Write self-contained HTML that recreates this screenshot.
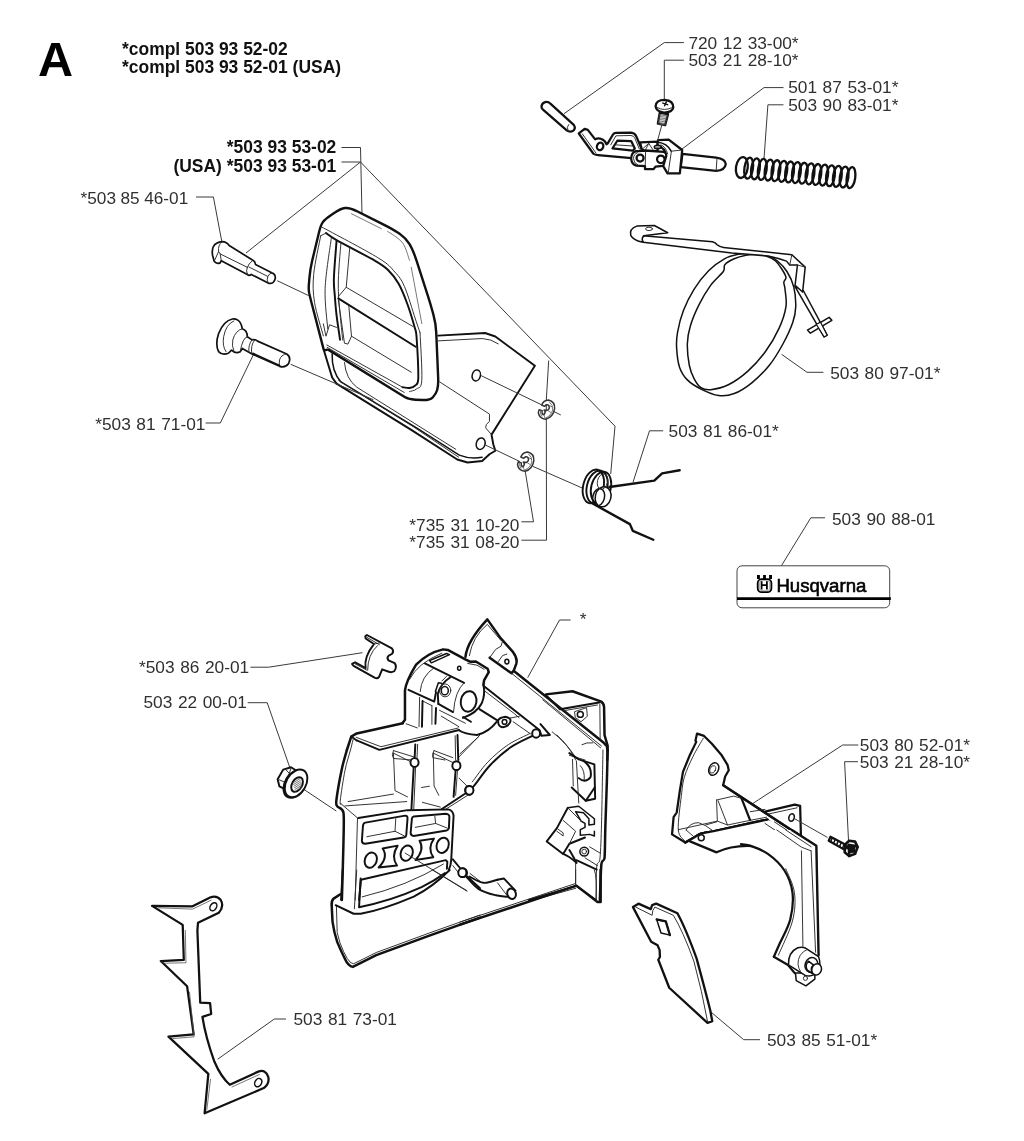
<!DOCTYPE html>
<html><head><meta charset="utf-8"><title>A</title>
<style>
html,body{margin:0;padding:0;background:#fff;}
body{width:1024px;height:1141px;overflow:hidden;position:relative;}
svg{position:absolute;left:0;top:0;display:block;will-change:transform;}
text{font-family:"Liberation Sans",Arial,Helvetica,sans-serif;fill:#1a1a1a;}
.t{font-size:17.3px;word-spacing:0.8px;fill:#303030;}
.b{font-size:17.45px;font-weight:bold;fill:#111;}
.ld{fill:none;stroke:#3a3a3a;stroke-width:1;}
.k{fill:none;stroke:#111;stroke-width:2.25;stroke-linejoin:round;stroke-linecap:round;}
.m{fill:none;stroke:#111;stroke-width:1.5;stroke-linejoin:round;stroke-linecap:round;}
.n{fill:none;stroke:#2a2a2a;stroke-width:0.95;stroke-linejoin:round;stroke-linecap:round;}
.h{fill:none;stroke:#555;stroke-width:0.8;stroke-linejoin:round;stroke-linecap:round;}
.w{fill:#fff;}
#housing .k{stroke-width:1.95}
#handle .k{stroke-width:1.95}
path,line,ellipse,circle,polyline,polygon,rect{vector-effect:non-scaling-stroke}
</style></head><body>
<svg width="1024" height="1141" viewBox="0 0 1024 1141">
<g id="labels">
<text x="38" y="76" style="font-size:48.6px;font-weight:bold;fill:#000">A</text>
<text class="b" x="122" y="55.3">*compl 503 93 52-02</text>
<text class="b" x="122" y="72.9">*compl 503 93 52-01 (USA)</text>
<text class="b" x="336.3" y="153.2" text-anchor="end">*503 93 53-02</text>
<text class="b" x="336.3" y="171.5" text-anchor="end">(USA) *503 93 53-01</text>
<text class="t" x="80.6" y="203.7" style="word-spacing:-0.2px;font-size:17.2px">*503 85 46-01</text>
<text class="t" x="688.4" y="49.2">720 12 33-00*</text>
<text class="t" x="688.4" y="66.4">503 21 28-10*</text>
<text class="t" x="788.2" y="93.4">501 87 53-01*</text>
<text class="t" x="788.2" y="110.6">503 90 83-01*</text>
<text class="t" x="830.2" y="378.5">503 80 97-01*</text>
<text class="t" x="668.6" y="437.4">503 81 86-01*</text>
<text class="t" x="409.3" y="531">*735 31 10-20</text>
<text class="t" x="409.3" y="548">*735 31 08-20</text>
<text class="t" x="95.2" y="430">*503 81 71-01</text>
<text class="t" x="832" y="524.8">503 90 88-01</text>
<text class="t" x="139" y="673">*503 86 20-01</text>
<text class="t" x="143.5" y="708.2">503 22 00-01</text>
<text class="t" x="579.8" y="625">*</text>
<text class="t" x="859.8" y="750.8">503 80 52-01*</text>
<text class="t" x="859.8" y="768.4">503 21 28-10*</text>
<text class="t" x="293.5" y="1025.2">503 81 73-01</text>
<text class="t" x="767" y="1046.3">503 85 51-01*</text>
</g>

<g id="leaders" class="ld">
<path d="M341.5 147.5H360.5L362 215"/>
<path d="M341.5 162H360.5L246 253"/>
<path d="M548.7 360.5L546.3 400L546.5 540.2H521.4"/>
<path d="M360.5 162L615 426.2L610.7 474"/>
<path d="M196 197H213.4L221.7 241"/>
<path d="M683.9 42.6H664.3L564 113.7"/>
<path d="M683.9 60.2H664.3V100"/>
<path d="M783.5 87.6H764L682 149"/>
<path d="M783.5 104.8H767.9L764 158.7"/>
<path d="M823.4 372.3H807L781.6 354.3"/>
<path d="M663.2 430.8H649.5L633 482.3"/>
<path d="M521.4 521.8H533.5L525.3 471.8"/>
<path d="M205.6 423H220.3L253.4 354.7"/>
<path d="M825 517.8H810.8L780.7 566.9"/>
<path d="M250.4 667.2H268.7L362.5 652.7"/>
<path d="M247.7 702.7H267.2L290.2 768.7"/>
<path d="M304 789.5L336.3 811"/>
<path d="M570.6 620H559.5L527.7 677.6"/>
<path d="M858.3 745H842.7L752.8 803.5"/>
<path d="M858 761.7H844.6L848.5 840.6"/>
<path d="M286 1019H274.3L217.7 1059.2"/>
<path d="M760 1039.7H743.7L711.3 1012.3"/>
</g>

<g id="topright">
<g transform="translate(530,80) scale(0.19531)">
<path class="k w" d="M60 144 Q55 120 78 113 Q94 110 103 120 L224 230 Q236 246 222 259 Q205 270 188 258 L68 153 Z"/>
<path class="n" d="M198 228 Q185 240 195 260"/>
</g>
<g transform="translate(570,120) scale(0.11719)">
<path class="k w" d="M75 115 L125 75 L152 84 L215 165 Q240 152 268 162 Q300 175 312 207 L322 200 L368 122 Q376 110 392 110 L520 108 Q552 110 566 140 L612 250 L640 262 L560 268 L525 325 L240 300 Q212 298 200 288 Z"/>
<path class="n" d="M105 118 L222 282"/>
<ellipse class="k w" cx="257" cy="225" rx="27" ry="33" transform="rotate(20 257 225)"/>
<path class="k w" d="M362 243 L405 175 L522 180 L553 243 L535 262 Z"/>
<path class="n" d="M348 212 L392 135 L520 132 Q542 134 552 152 L592 248"/>
<path class="n" d="M388 212 L538 222"/>
<path class="k w" d="M598 190 L748 185 L748 265 L640 262 L612 250 Z"/>
<path class="n" d="M612 252 L672 200 L715 264 M672 200 L640 262"/>
<path class="k w" d="M560 268 Q524 278 522 330 Q526 380 566 390 L640 394 L640 420 L712 420 L730 398 L792 392 Q836 380 838 330 Q836 284 800 272 L640 262 Z"/>
<path class="n" d="M575 280 Q542 292 542 330 Q545 372 578 382"/>
<path class="n" d="M645 265 L642 394"/>
<circle class="k" cx="598" cy="325" r="30"/>
<circle class="k" cx="775" cy="335" r="32"/>
</g>
<g transform="translate(640,90) scale(0.11719)">
<path class="k w" d="M362 545 L650 578 Q728 590 732 632 Q726 684 650 690 L348 658 Z"/>
<path class="n" d="M657 582 L650 688"/>
<path class="k w" d="M150 445 L155 428 L245 423 L360 512 L340 712 L235 712 L198 650 L225 560 Q215 500 150 470 Z"/>
<path class="n" d="M360 512 L268 522 L240 712"/>
<path class="m" d="M150 445 Q232 452 266 522"/>
<path class="n" d="M178 468 Q218 480 236 545"/>
<ellipse class="m w" cx="150" cy="487" rx="28" ry="15"/>
<path class="n" d="M135 487 L165 487"/>
<path class="ld" d="M186 300 L150 430"/>
<path class="k w" d="M168 195 L152 288 L215 300 L240 205 Z"/>
<path class="h" d="M166 212 L236 220"/>
<path class="h" d="M163.8 225 L232.6 233"/>
<path class="h" d="M161.6 238 L229.2 246"/>
<path class="h" d="M159.4 251 L225.8 259"/>
<path class="h" d="M157.2 264 L222.4 272"/>
<path class="h" d="M155 277 L219 285"/>
<path class="h" d="M152.8 290 L215.6 298"/>
<path class="k w" d="M133 140 Q135 84 210 84 Q286 90 284 150 Q276 192 205 192 Q138 186 133 140 Z"/>
<path class="n" d="M148 150 Q205 182 270 152"/>
<path class="m" d="M195 112 L235 125 M225 100 L210 135"/>
</g>
<g transform="translate(725,140) scale(0.14648)">
<ellipse class="k" style="stroke-width:2.3" cx="115.0" cy="188.0" rx="40" ry="72" transform="rotate(8 115.0 188.0)"/>
<ellipse class="k" style="stroke-width:2.3" cx="161.6" cy="192.3" rx="29" ry="72" transform="rotate(8 161.6 192.3)"/>
<ellipse class="k" style="stroke-width:2.3" cx="208.1" cy="196.6" rx="29" ry="72" transform="rotate(8 208.1 196.6)"/>
<ellipse class="k" style="stroke-width:2.3" cx="254.7" cy="200.9" rx="29" ry="72" transform="rotate(8 254.7 200.9)"/>
<ellipse class="k" style="stroke-width:2.3" cx="301.2" cy="205.2" rx="29" ry="72" transform="rotate(8 301.2 205.2)"/>
<ellipse class="k" style="stroke-width:2.3" cx="347.8" cy="209.6" rx="29" ry="72" transform="rotate(8 347.8 209.6)"/>
<ellipse class="k" style="stroke-width:2.3" cx="394.4" cy="213.9" rx="29" ry="72" transform="rotate(8 394.4 213.9)"/>
<ellipse class="k" style="stroke-width:2.3" cx="440.9" cy="218.2" rx="29" ry="72" transform="rotate(8 440.9 218.2)"/>
<ellipse class="k" style="stroke-width:2.3" cx="487.5" cy="222.5" rx="29" ry="72" transform="rotate(8 487.5 222.5)"/>
<ellipse class="k" style="stroke-width:2.3" cx="534.1" cy="226.8" rx="29" ry="72" transform="rotate(8 534.1 226.8)"/>
<ellipse class="k" style="stroke-width:2.3" cx="580.6" cy="231.1" rx="29" ry="72" transform="rotate(8 580.6 231.1)"/>
<ellipse class="k" style="stroke-width:2.3" cx="627.2" cy="235.4" rx="29" ry="72" transform="rotate(8 627.2 235.4)"/>
<ellipse class="k" style="stroke-width:2.3" cx="673.8" cy="239.8" rx="29" ry="72" transform="rotate(8 673.8 239.8)"/>
<ellipse class="k" style="stroke-width:2.3" cx="720.3" cy="244.1" rx="29" ry="72" transform="rotate(8 720.3 244.1)"/>
<ellipse class="k" style="stroke-width:2.3" cx="766.9" cy="248.4" rx="29" ry="72" transform="rotate(8 766.9 248.4)"/>
<ellipse class="k" style="stroke-width:2.3" cx="813.4" cy="252.7" rx="29" ry="72" transform="rotate(8 813.4 252.7)"/>
<ellipse class="k" style="stroke-width:2.3" cx="860.0" cy="257.0" rx="29" ry="72" transform="rotate(8 860.0 257.0)"/>
</g>
</g>

<g id="band">
<g transform="translate(660,250) scale(0.19531)">
<path class="m" d="M480.0 15.0 C455.8 14.5 425.0 17.0 400.0 22.0 C375.0 27.0 355.0 31.2 330.0 45.0 C305.0 58.8 275.8 79.2 250.0 105.0 C224.2 130.8 196.7 165.8 175.0 200.0 C153.3 234.2 134.2 273.3 120.0 310.0 C105.8 346.7 95.8 388.3 90.0 420.0 C84.2 451.7 83.3 470.0 85.0 500.0 C86.7 530.0 90.8 572.5 100.0 600.0 C109.2 627.5 121.7 646.3 140.0 665.0 C158.3 683.7 183.3 698.7 210.0 712.0 C236.7 725.3 271.7 741.2 300.0 745.0 C328.3 748.8 351.7 745.8 380.0 735.0 C408.3 724.2 440.0 704.2 470.0 680.0 C500.0 655.8 533.3 623.3 560.0 590.0 C586.7 556.7 610.0 516.7 630.0 480.0 C650.0 443.3 669.2 401.7 680.0 370.0 C690.8 338.3 694.2 320.0 695.0 290.0 C695.8 260.0 692.5 220.0 685.0 190.0 C677.5 160.0 664.2 132.5 650.0 110.0 C635.8 87.5 617.5 69.2 600.0 55.0 C582.5 40.8 565.0 31.7 545.0 25.0 C525.0 18.3 504.2 15.5 480.0 15.0Z"/>
<path class="m" d="M440.0 27.0 C421.7 30.8 398.0 37.0 380.0 45.0 C362.0 53.0 341.3 64.2 332.0 75.0 C322.7 85.8 336.0 92.5 324.0 110.0 C312.0 127.5 280.7 151.7 260.0 180.0 C239.3 208.3 217.5 245.0 200.0 280.0 C182.5 315.0 165.0 356.7 155.0 390.0 C145.0 423.3 140.8 446.7 140.0 480.0 C139.2 513.3 144.2 560.0 150.0 590.0 C155.8 620.0 165.0 640.8 175.0 660.0 C185.0 679.2 195.8 695.8 210.0 705.0 C224.2 714.2 236.7 717.5 260.0 715.0 C283.3 712.5 318.3 705.8 350.0 690.0 C381.7 674.2 418.3 648.3 450.0 620.0 C481.7 591.7 513.3 556.7 540.0 520.0 C566.7 483.3 592.5 438.3 610.0 400.0 C627.5 361.7 640.0 323.3 645.0 290.0 C650.0 256.7 641.8 220.8 640.0 200.0 C638.2 179.2 633.2 175.0 634.0 165.0 C634.8 155.0 646.5 150.8 645.0 140.0 C643.5 129.2 634.2 114.2 625.0 100.0 C615.8 85.8 604.2 66.7 590.0 55.0 C575.8 43.3 556.7 35.5 540.0 30.0 C523.3 24.5 506.7 22.5 490.0 22.0 C473.3 21.5 458.3 23.2 440.0 27.0Z"/>
<path class="m w" d="M690 185 L840 445 L856 436 L735 210 Z"/>
<path class="m w" d="M755 410 L866 345 L880 360 L770 426 Z"/>
<path class="m w" d="M800 380 L840 445 L856 436 L822 370 Z" style="stroke-width:1.2"/>
</g>
<g transform="translate(620,210) scale(0.21484)">
<path class="m w" d="M108 120 L430 148 Q445 152 452 162 Q462 172 482 174 L800 208 L862 266 L850 382 L815 350 L826 256 L790 256 L775 238 Q740 225 690 214 L520 200 L108 150 Q98 135 108 120Z"/>
<path class="m w" d="M222 106 L160 72 L78 75 Q42 88 50 118 Q62 142 108 150 Q98 135 110 120 Z"/>
<ellipse class="n" cx="135" cy="88" rx="16" ry="8"/>
<path class="n" d="M790 256 L800 208 M826 256 L862 266"/>
</g>
</g>

<g id="handle">
<g transform="translate(280,190) scale(0.29297)">
<path class="w" d="M300 600 L193 661 L448 819 L605 920 L640 930 L690 925 L715 902 L735 890 L728 868 L722 835 L870 600 L735 500 L700 488 L540 497 L520 520 Z"/>
<path class="k" d="M193 661 L448 819 L605 920 L640 930 L690 925 L715 902 L735 890 L728 868 L722 835 L870 600 L735 500 L700 488 L540 497"/>
<path class="n" d="M540 515 L690 507 Q720 508 745 525"/>
<path class="n" d="M545 655 L715 765 L715 790 Q700 800 702 812 L722 835"/>
<path class="m" d="M178 559 Q176 620 208 655 L466 812 L612 905 Q650 920 690 912"/>
<path class="n" d="M220 589 Q225 645 262 673 L600 885"/>
<path class="n" d="M200 650 L455 808 L610 912"/>
<ellipse class="m w" cx="670" cy="633" rx="14" ry="19" transform="rotate(15 670 633)"/>
<ellipse class="m w" cx="685" cy="866" rx="15" ry="20" transform="rotate(15 685 866)"/>
<path class="k w" style="stroke-width:2.4" d="M99.7 352.3 Q97.0 340.0 98.7 320.1 L100.4 299.9 Q103.0 270.0 110.0 240.8 L133.2 144.3 Q139.0 120.0 145.8 110.5 L147.2 108.5 Q154.0 99.0 174.8 85.1 L183.5 79.4 Q208.0 63.0 221.6 61.6 L224.4 61.4 Q238.0 60.0 264.8 73.4 L352.2 117.1 Q388.0 135.0 407.1 148.6 L410.9 151.4 Q430.0 165.0 440.9 182.7 L443.1 186.3 Q454.0 204.0 466.3 242.1 L504.8 361.4 Q514.0 390.0 521.8 419.0 L524.2 428.0 Q532.0 457.0 533.3 487.0 L539.7 637.0 Q541.0 667.0 536.9 680.6 L536.1 683.4 Q532.0 697.0 522.5 706.5 L520.5 708.5 Q511.0 718.0 486.0 716.8 L463.0 715.7 Q448.0 715.0 439.8 712.3 L438.2 711.7 Q430.0 709.0 421.5 703.7 L167.3 546.6 Q163.0 544.0 158.2 545.5 L154.8 546.5 Q150.0 548.0 148.7 543.2 L110.5 396.0 Q103.0 367.0 100.3 354.7 Z"/>
<path class="k" d="M150 548 L178 640 L193 661"/>
<path class="k" d="M157.0 147.0 C161.8 150.2 171.0 158.6 193.0 171.0 C215.0 183.4 298.7 226.5 322.0 240.0 C345.3 253.5 356.9 261.3 368.0 272.0 C379.1 282.7 396.1 304.3 405.0 320.0 C413.9 335.7 427.7 370.0 435.0 390.0 C442.3 410.0 455.9 455.3 460.0 470.0 C464.1 484.7 464.4 476.9 466.0 500.0 C467.6 523.1 472.5 620.7 472.0 643.0 C471.5 665.3 466.0 662.6 462.0 667.0 C458.0 671.4 447.9 675.2 442.0 676.0 C436.1 676.8 421.2 673.4 418.0 673.0"/>
<path class="n" d="M418 673 L160 529"/>
<path class="n" d="M424 691 L161 537"/>
<path class="k" d="M193.0 174.0 C191.5 195.0 185.0 269.0 184.0 300.0 C183.0 331.0 185.5 338.8 187.0 360.0 C188.5 381.2 190.0 401.8 193.0 427.0 C196.0 452.2 203.0 497.0 205.0 511.0"/>
<path class="k" d="M199 370 L463 535"/>
<path class="n" d="M199 364 L226 332 L454 466"/>
<path class="n" d="M238 198 L226 332"/>
<path class="n" d="M139.0 156.0 C135.0 178.0 118.5 250.0 115.0 288.0 C111.5 326.0 112.5 349.0 118.0 384.0 C123.5 419.0 143.0 479.0 148.0 498.0"/>
<path class="n" d="M175.0 165.0 C171.5 193.5 156.0 284.5 154.0 336.0 C152.0 387.5 161.5 451.0 163.0 474.0"/>
<path class="n" d="M148 457 L157 499 L169 460 L193 469"/>
<path class="n" d="M157 147 L139 156"/>
<path class="n" d="M208.0 180.0 C206.5 206.0 198.0 280.7 199.0 336.0 C200.0 391.3 211.5 482.7 214.0 512.0"/>
<path class="n" d="M199 373 L220 523 L232 526 L244 499 L235 397"/>
<path class="n" d="M244 499 L448 622"/>
<path class="n" d="M142.0 126.0 C174.0 143.5 292.3 205.3 334.0 231.0 C375.7 256.7 376.8 263.5 392.0 280.0 C407.2 296.5 413.3 303.3 425.0 330.0 C436.7 356.7 453.2 413.8 462.0 440.0 C470.8 466.2 475.3 479.2 478.0 487.0"/>
<path class="n" d="M478.0 487.0 C479.0 514.0 486.0 617.0 484.0 649.0 C482.0 681.0 473.0 672.5 466.0 679.0 C459.0 685.5 446.0 686.5 442.0 688.0"/>
<path class="h" d="M244 81 L346 132"/>
<path class="h" d="M367.0 141.0 C375.5 147.5 405.5 163.5 418.0 180.0 C430.5 196.5 438.0 230.0 442.0 240.0"/>
<path class="h" d="M448 264 L484 456"/>
</g>
</g>

<g id="small">
<g transform="translate(200,220) scale(0.15768)">
<path class="ld" d="M490 385 L690 480"/>
<path class="ld" d="M575 915 L1100 1140"/>
<path class="m w" style="stroke-width:1.7" d="M140 137 Q100 140 84 170 Q74 195 80 225 L90 262 Q105 282 128 272 L135 258 L300 345 Q312 358 325 345 L432 400 Q470 410 478 368 Q478 340 455 335 L352 282 Q350 262 335 255 L185 162 Q170 138 140 137 Z"/>
<path class="n" d="M140 137 Q112 160 118 200 L90 262 M118 200 L128 215 L300 300 M128 215 L135 258"/>
<path class="n" d="M300 300 Q290 320 300 345 M300 300 Q305 280 335 255 M310 298 L430 358 Q420 380 432 400 M430 358 Q440 338 455 335"/>
<path class="m w" style="stroke-width:1.7" d="M205 628 Q150 640 118 720 Q95 790 118 835 Q140 860 180 845 L200 825 Q225 850 255 835 L268 815 L330 850 L505 928 Q540 940 562 910 Q580 870 550 850 L365 768 Q350 755 330 760 L300 740 Q300 700 268 690 Q262 650 240 635 Q225 626 205 628 Z"/>
<path class="n" d="M215 640 Q165 660 150 740 Q140 800 165 835"/>
<path class="n" d="M268 690 Q225 700 208 760 Q200 800 215 830"/>
<path class="n" d="M300 740 Q270 745 255 835 M330 760 Q305 790 310 840 M345 764 Q320 795 328 848"/>
<path class="n" d="M520 862 Q495 880 505 928 M520 862 Q535 848 550 850"/>
<path class="m" d="M335 845 L505 922"/>
</g>
<g transform="translate(505,385) scale(0.08326)">
<path class="ld" d="M-292 -115 L440 238 M560 305 L670 360"/>
<path class="ld" d="M-240 719 L180 920 M330 975 L1230 1370"/>
<g transform="translate(0,0)"><path class="m w" style="stroke:#333" d="M440 240 Q462 185 522 180 Q602 200 596 285 Q580 385 490 412 Q412 402 400 332 L410 296 L446 310 Q440 345 458 357 Q482 352 482 318 L470 300 L505 305 Q545 290 526 246 Q500 225 476 256 Z"/><path class="h" d="M535 205 Q580 240 572 300 Q555 370 490 395 M425 305 Q420 350 440 375 M540 250 L565 262 M520 310 L552 330 M470 360 L480 395"/></g>
<g transform="translate(-250,625)"><path class="m w" style="stroke:#333" d="M440 240 Q462 185 522 180 Q602 200 596 285 Q580 385 490 412 Q412 402 400 332 L410 296 L446 310 Q440 345 458 357 Q482 352 482 318 L470 300 L505 305 Q545 290 526 246 Q500 225 476 256 Z"/><path class="h" d="M535 205 Q580 240 572 300 Q555 370 490 395 M425 305 Q420 350 440 375 M540 250 L565 262 M520 310 L552 330 M470 360 L480 395"/></g>
</g>
<g transform="translate(500,380) scale(0.19531)">
<path class="k" style="stroke-width:2.4" d="M560 548 L790 515 L830 478 L920 462"/>
<path class="k" style="stroke-width:2.4" d="M470 630 L665 738 L680 772 L785 818"/>
<ellipse class="k w" style="stroke-width:1.9" cx="478" cy="545" rx="52" ry="88" transform="rotate(14 478 545)"/>
<ellipse class="k" style="stroke-width:1.9" cx="497" cy="548" rx="52" ry="86" transform="rotate(14 497 548)"/>
<ellipse class="k" style="stroke-width:1.9" cx="517" cy="551" rx="50" ry="83" transform="rotate(14 517 551)"/>
<ellipse class="m w" cx="528" cy="598" rx="40" ry="52" transform="rotate(14 528 598)"/>
<ellipse class="m" cx="505" cy="600" rx="30" ry="45" transform="rotate(14 505 600)"/>
<ellipse class="n" cx="525" cy="520" rx="26" ry="40" transform="rotate(14 525 520)"/>
</g>
</g>

<g id="badge">
<rect x="737" y="565.8" width="152.7" height="42" rx="5" ry="5" fill="#fff" stroke="#444" stroke-width="1"/>
<path d="M737 598.6H890.8" stroke="#000" stroke-width="2.8" fill="none"/>
<text x="776.4" y="592.4" style="font-size:18.6px;fill:#000;stroke:#000;stroke-width:0.6px">Husqvarna</text>
<rect x="757.7" y="579.1" width="13.7" height="13.1" rx="4" ry="4" fill="#fff" stroke="#000" stroke-width="1.8"/>
<rect x="759.4" y="580.6" width="10.3" height="10.1" rx="2.6" ry="2.6" fill="none" stroke="#555" stroke-width="0.5"/>
<path d="M761.6 581.3V589.4M766.9 581.3V589.4M761.6 585.1H766.9" stroke="#000" stroke-width="1.8" fill="none"/>
<path d="M757 575.1H759.9V579H757ZM763.1 574.9H765.9V579H763.1ZM769.1 575.1H772V579H769.1Z" fill="#000"/>
</g>

<g id="spike">
<g transform="translate(140,880) scale(0.21901)">
<path class="k w" d="M55 118 L240 120 L320 80 Q350 68 368 90 Q386 120 360 150 L265 195 L262 230 L275 560 L320 562 L325 612 L285 625 Q300 720 340 830 Q370 900 410 935 L540 875 Q575 863 586 900 Q592 930 565 950 L295 1065 L312 885 L130 715 L245 705 L215 485 L95 370 L200 365 L195 205 Z"/>
<ellipse class="m" cx="335" cy="122" rx="14" ry="20" transform="rotate(32 335 122)"/>
<ellipse class="m" cx="540" cy="925" rx="15" ry="20" transform="rotate(32 540 925)"/>
<path class="h" d="M85 127 L240 133 L325 92 M207 230 L210 378 L110 380 M226 512 L247 716 L150 724 M322 910 L305 1050 M420 945 L545 888"/>
</g>
</g>

<g id="cover">
<g transform="translate(620,890) scale(0.13672)">
<path class="k w" style="stroke-width:2.3" d="M95 125 L135 100 L225 140 L235 110 L265 100 L420 170 Q480 280 560 500 Q620 720 660 880 L675 960 L640 972 L360 715 L280 510 L292 490 L290 440 L275 405 L228 378 Z"/>
<path class="n" d="M115 125 L235 185 L240 150 L255 125 L390 185 Q460 300 540 520 Q600 740 640 960"/>
<path class="m" d="M268 215 L335 230 L365 330 L300 315 Z"/>
<path class="k" d="M268 215 L335 230 L365 330"/>
</g>
<g transform="translate(665,725) scale(0.15625)">
<path class="k w" d="M640 555 L830 510 L865 518 L870 715 L640 600 Z"/>
<path class="n" d="M660 570 L845 530"/>
<ellipse class="m w" cx="810" cy="592" rx="17" ry="24" transform="rotate(20 810 592)"/>
<path class="k w" d="M205 55 L250 70 L300 120 L360 190 L400 255 L408 290 L385 330 L372 385 L965 775 L965 900 L655 605 L310 680 L250 690 L195 715 L130 752 L45 700 L55 590 L75 560 L95 420 L115 300 L160 190 L200 108 L195 100 Z"/>
<path class="w" d="M655 605 L965 900 L965 775Z"/>
<path class="k" style="stroke-width:2.4" d="M372 385 L965 775 L968 900"/>
<path class="k" d="M130 752 L195 715 Q215 695 250 690 L310 680 L655 605"/>
<path class="k w" d="M130 752 L160 745 L330 815 Q430 770 560 775 Q640 790 700 850 L700 900 L968 900 L965 775 L655 605 L310 680 L250 690 L195 715 Z" style="stroke:none"/>
<path class="k" d="M160 745 L330 815 Q430 768 560 775 Q640 792 705 850"/>
<path class="k" d="M130 752 L195 715 Q215 695 250 690 L310 680 L655 605"/>
<circle class="m w" cx="232" cy="722" r="19"/>
<path class="n" d="M330 480 L440 455 L490 470 M330 480 L335 615 M340 485 L400 640 M545 555 L640 540"/>
<path class="k" d="M490 470 L545 610"/>
<path class="n" d="M85 670 L335 615 L400 640 L545 610 L650 590"/>
<path class="n" d="M135 672 Q160 625 215 625 Q262 640 300 672 M135 672 L190 720 M260 640 L330 620"/>
<path class="n" d="M245.0 85.0 C234.2 104.2 200.0 159.2 180.0 200.0 C160.0 240.8 137.5 288.3 125.0 330.0 C112.5 371.7 111.7 393.3 105.0 450.0 C98.3 506.7 81.7 621.7 85.0 670.0 C88.3 718.3 118.3 728.3 125.0 740.0"/>
<ellipse class="m" cx="312" cy="282" rx="30" ry="42" transform="rotate(25 312 282)"/>
<ellipse class="n" cx="306" cy="284" rx="17" ry="25" transform="rotate(25 306 284)"/>
<path class="n" d="M640 630 L880 790 M700 620 L940 780"/>
</g>
<g transform="translate(750,830) scale(0.14908)">
<path class="w" d="M280 0 L445 105 L460 840 L440 985 L375 1045 L310 1010 L300 960 L255 905 L160 850 L200 760 L270 600 L285 420 L230 270 L120 160 L0 105 L0 0 Z"/>
<path class="k" style="stroke-width:2.4" d="M280 0 L445 105 L460 840"/>
<path class="k" d="M-60.0 95.0 C-50.0 96.7 -30.0 94.2 0.0 105.0 C30.0 115.8 81.7 132.5 120.0 160.0 C158.3 187.5 202.5 226.7 230.0 270.0 C257.5 313.3 278.3 365.0 285.0 420.0 C291.7 475.0 284.2 543.3 270.0 600.0 C255.8 656.7 218.3 718.3 200.0 760.0 C181.7 801.7 166.7 835.0 160.0 850.0"/>
<path class="k" d="M160 850 L255 905 L300 960"/>
<path class="n" d="M240.0 260.0 C249.7 286.7 290.5 361.7 298.0 420.0 C305.5 478.3 303.0 540.0 285.0 610.0 C267.0 680.0 205.8 801.7 190.0 840.0"/>
<path class="n" d="M180 0 L345 115 L410 140 M345 140 L355 780 M410 140 L440 820 M240 0 L410 112"/>
<path class="m w" d="M305 960 L310 1010 L375 1045 L435 1000 L435 960 Z"/>
<circle class="n" cx="372" cy="995" r="14"/>
<path class="m w" d="M258 905 Q255 820 320 790 Q360 778 385 800 L460 850 Q480 900 455 950 Q420 990 370 975 Z"/>
<path class="n" d="M385 800 Q320 830 322 900 Q330 960 370 975"/>
<ellipse class="m w" cx="412" cy="905" rx="42" ry="50" transform="rotate(20 412 905)"/>
<path class="m w" d="M392 880 L425 905 Q400 930 420 965 L385 940 Q365 905 392 880Z"/>
<ellipse class="m w" cx="447" cy="935" rx="32" ry="38" transform="rotate(20 447 935)"/>
<path class="ld" d="M300 -75 L520 50"/>
<path class="k w" d="M540 45 L645 100 L630 130 L528 72 Z"/>
<path class="m" d="M552 52 L540 80"/>
<path class="m" d="M572 62.5 L560 91"/>
<path class="m" d="M592 73 L580 102"/>
<path class="m" d="M612 83.5 L600 113"/>
<path class="m" d="M632 94 L620 124"/>
<path class="k w" style="stroke-width:2.6" d="M640 95 L665 72 L705 78 L722 115 L705 160 L665 175 L635 150 Z"/>
<path class="k" d="M660 98 L698 104 L700 142 L664 152 Z M652 122 L640 95 M698 104 L722 115 M700 142 L705 160 M664 152 L665 175 M672 112 L688 116 L686 134 L672 138Z"/>
</g>
</g>

<g id="housing">
<g transform="translate(320,610) scale(0.15625)">
<path class="k w" transform="translate(0,0) scale(1)" d="M290 168 L300 160 L460 245 Q475 262 462 280 L440 292 Q425 305 438 322 L478 340 Q495 365 475 392 Q455 402 440 395 L398 380 L378 428 Q368 442 352 435 L215 357 L205 345 L225 335 L292 372 Q280 300 345 218 L292 182 Z"/>
<path class="n" transform="translate(0,0) scale(1)" d="M368 228 Q305 285 305 385"/>
<path class="n" transform="translate(0,0) scale(1)" d="M300 175 L380 222 M345 218 L385 210 M225 345 L300 385"/>
<path class="k" style="stroke-width:2.5" transform="translate(0,0) scale(1)" d="M172 896 L200 810 L235 790 L530 725"/>
<path class="k" style="stroke-width:2.5" transform="translate(480,192) scale(0.75)" d="M65 708 L85 680 L85 430 Q95 350 180 210 Q280 110 410 80 L450 85 L600 165 L640 185 L690 183 L790 245 L800 275 L760 345 L755 380"/>
<path class="k" transform="translate(0,0) scale(1)" d="M235 835 L380 895 L890 768"/>
<path class="n" transform="translate(0,0) scale(1)" d="M232 815 L390 875 L885 755"/>
<path class="k" transform="translate(0,0) scale(1)" d="M200 810 L235 835"/>
<path class="k" transform="translate(480,192) scale(0.75)" d="M255 200 L590 365"/>
<path class="n" transform="translate(480,192) scale(0.75)" d="M590 365 Q510 440 500 610"/>
<path class="k" transform="translate(480,192) scale(0.75)" d="M115 425 L335 525 L350 445"/>
<path class="k" transform="translate(480,192) scale(0.75)" d="M370 545 L495 615"/>
<path class="k" transform="translate(480,192) scale(0.75)" d="M470 320 Q390 370 365 460 L370 545"/>
<path class="n" transform="translate(480,192) scale(0.75)" d="M440 310 L400 350"/>
<path class="m" transform="translate(480,192) scale(0.75)" d="M345 440 L370 365 L395 370"/>
<ellipse class="n" cx="801" cy="514.5" rx="36" ry="41.25" transform="rotate(0 801 514.5)"/>
<ellipse class="m" cx="798.75" cy="516" rx="22.5" ry="27" transform="rotate(0 798.75 516)"/>
<path class="m" transform="translate(480,192) scale(0.75)" d="M295 175 L440 115 L465 125 L310 195 Z"/>
<path class="n" transform="translate(480,192) scale(0.75)" d="M125 335 Q190 200 400 112 M215 440 Q225 310 330 240"/>
<ellipse class="m" cx="891" cy="373.5" rx="10.5" ry="12.75" transform="rotate(0 891 373.5)"/>
<path class="n" transform="translate(480,192) scale(0.75)" d="M210 490 L205 740 M315 560 L315 720 M235 520 L315 560"/>
<path class="k" transform="translate(480,192) scale(0.75)" d="M235 520 L230 740 M350 580 L345 715"/>
<path class="n" transform="translate(480,192) scale(0.75)" d="M95 715 L190 750 M395 650 L545 740 M380 600 L600 710"/>
<path class="n" transform="translate(480,192) scale(0.75)" d="M620 200 L700 215 L760 250"/>
<path class="k" transform="translate(0,0) scale(1)" d="M610 860 L605 960 M880 800 L885 960"/>
<path class="n" transform="translate(0,0) scale(1)" d="M625 860 L620 960 M865 805 L868 960"/>
<path class="n" transform="translate(0,0) scale(1)" d="M470 900 Q455 930 470 950 L590 960 M730 900 Q715 925 722 945 L800 960 M890 940 L1024 800 M470 900 L600 940 M730 900 L850 945"/>
<path class="k" style="stroke-width:2.5" transform="translate(896,0) scale(1)" d="M35 300 Q45 200 175 60 L260 180 L340 270 Q370 310 360 345 L345 385 L330 405 L190 305"/>
<path class="n" transform="translate(896,0) scale(1)" d="M60 292 Q80 170 175 92 L262 195"/>
<path class="n" transform="translate(896,0) scale(1)" d="M190 305 L228 252 L262 232 L272 200 M245 330 L272 292 L300 282"/>
<ellipse class="m" cx="1196" cy="330" rx="13" ry="15" transform="rotate(0 1196 330)"/>
<path class="k" style="stroke-width:2.5" transform="translate(896,0) scale(1)" d="M345 390 L920 850 L940 872 L945 905"/>
<path class="n" transform="translate(896,0) scale(1)" d="M330 405 L905 870"/>
<path class="n" transform="translate(896,0) scale(1)" d="M530 575 L900 882"/>
<path class="k" transform="translate(896,0) scale(1)" d="M150 485 L510 770 L520 800"/>
<path class="k" style="stroke-width:2.5" transform="translate(896,0) scale(1)" d="M550 540 L720 520 L900 585 Q920 595 922 620 L925 800 L945 870 L942 960"/>
<path class="k" transform="translate(896,0) scale(1)" d="M550 545 L640 635 L890 592"/>
<path class="n" transform="translate(896,0) scale(1)" d="M660 645 L880 608 M895 600 L897 830"/>
<ellipse class="m" cx="1666" cy="668" rx="19" ry="19" transform="rotate(0 1666 668)"/>
<path class="n" transform="translate(896,0) scale(1)" d="M735 650 L810 625 L815 680 L775 715 L740 690 Z"/>
<ellipse class="k" cx="951" cy="585" rx="50" ry="66" transform="rotate(10 951 585)"/>
<path class="k" transform="translate(480,192) scale(0.75)" d="M755 380 Q772 470 740 540 Q700 622 580 665"/>
<path class="k" transform="translate(480,192) scale(0.75)" d="M720 590 L880 690"/>
<path class="k" transform="translate(896,0) scale(1)" d="M20 685 L70 715"/>
<path class="k" transform="translate(896,0) scale(1)" d="M-7 770 Q30 795 109 800 Q184 780 233 717"/>
<path class="k w" transform="translate(896,0) scale(1)" d="M245 705 Q250 690 290 683 Q330 690 322 715 Q312 745 272 750 Q240 745 245 705Z"/>
<ellipse class="m" cx="1181" cy="716" rx="15" ry="15" transform="rotate(0 1181 716)"/>
<path class="n" transform="translate(896,0) scale(1)" d="M150 512 L350 665 L378 690 M340 715 L450 792 M320 692 L380 680"/>
<path class="k" transform="translate(896,0) scale(1)" d="M515 730 L575 800 L520 805"/>
<path class="k" transform="translate(0,0) scale(1)" d="M1360.0 805.0 C1336.3 817.5 1263.0 848.8 1218.0 880.0 C1173.0 911.2 1127.5 952.7 1090.0 992.0 C1052.5 1031.3 1012.7 1091.3 993.0 1116.0 C973.3 1140.7 975.5 1136.0 972.0 1140.0"/>
<path class="n" transform="translate(0,0) scale(1)" d="M1345.0 790.0 C1321.7 802.0 1250.0 831.7 1205.0 862.0 C1160.0 892.3 1113.3 932.3 1075.0 972.0 C1036.7 1011.7 991.7 1078.7 975.0 1100.0"/>
<ellipse class="k w" cx="1383" cy="790" rx="25" ry="27" transform="rotate(0 1383 790)"/>
<path class="n" transform="translate(896,0) scale(1)" d="M0 920 L120 810"/>
<path class="n" transform="translate(896,0) scale(1)" d="M590 780 Q680 850 745 950 M780 862 Q810 845 850 850 M700 930 L800 960 M620 800 Q700 870 740 960"/>
<path class="k" style="stroke-width:2.5" transform="translate(0,896) scale(1)" d="M172.0 0.0 C167.7 16.0 148.9 77.3 140.0 120.0 C131.1 162.7 109.0 288.0 105.0 320.0 C101.0 352.0 104.0 349.3 110.0 360.0 C116.0 370.7 144.7 368.0 150.0 400.0 C155.3 432.0 151.3 525.3 150.0 600.0 C148.7 674.7 141.3 912.0 140.0 960.0"/>
<path class="n" transform="translate(0,896) scale(1)" d="M215.0 -80.0 C211.7 -66.7 204.2 -35.0 195.0 0.0 C185.8 35.0 170.8 76.7 160.0 130.0 C149.2 183.3 134.2 283.3 130.0 320.0 C125.8 356.7 134.2 345.0 135.0 350.0"/>
<path class="n" transform="translate(0,896) scale(1)" d="M130 340 L240 435 L225 960"/>
<path class="k" transform="translate(0,896) scale(1)" d="M245 435 L560 385 L820 380 Q850 385 855 420 L840 700 Q838 740 825 765"/>
<path class="k" transform="translate(0,896) scale(1)" d="M290 465 L545 420 Q562 420 560 440 L552 545 Q550 558 535 560 L290 600 Q268 600 268 580 L275 485 Q277 468 290 465Z"/>
<path class="k" transform="translate(0,896) scale(1)" d="M600 425 L805 408 Q830 410 828 432 L825 500 Q823 512 810 515 L600 550 Q580 550 580 530 L588 440 Q590 427 600 425Z"/>
<ellipse class="k" cx="325" cy="1601" rx="38" ry="50" transform="rotate(20 325 1601)"/>
<ellipse class="k" cx="555" cy="1556" rx="38" ry="50" transform="rotate(20 555 1556)"/>
<ellipse class="k" cx="785" cy="1506" rx="38" ry="50" transform="rotate(20 785 1506)"/>
<path class="k" transform="translate(0,896) scale(1)" d="M401 630 L497 612 Q452 682 493 739 L375 752 Q440 686 401 630Z"/>
<path class="k" transform="translate(0,896) scale(1)" d="M637 581 L729 567 Q685 630 725 686 L611 704 Q672 638 637 581Z"/>
<path class="k" transform="translate(0,896) scale(1)" d="M262 830 L805 705 L815 715 L812 760 M262 830 L250 960"/>
<path class="n" transform="translate(0,896) scale(1)" d="M270 940 Q560 870 790 730"/>
<path class="n" transform="translate(0,896) scale(1)" d="M300 555 L480 520 L540 550 M480 520 L485 440 M610 495 L740 470 L815 500 M740 470 L735 425"/>
<path class="k" transform="translate(0,896) scale(1)" d="M600 105 L585 380 M868 128 L855 300"/>
<path class="n" transform="translate(0,896) scale(1)" d="M612 105 L600 380 M880 128 L868 290"/>
<path class="k" transform="translate(0,896) scale(1)" d="M935 275 L780 378"/>
<path class="n" transform="translate(0,896) scale(1)" d="M945 290 L800 382"/>
<ellipse class="k w" cx="605" cy="976" rx="26" ry="28" transform="rotate(0 605 976)"/>
<ellipse class="k w" cx="873" cy="996" rx="26" ry="28" transform="rotate(0 873 996)"/>
<ellipse class="k w" cx="955" cy="1154" rx="26" ry="28" transform="rotate(0 955 1154)"/>
<ellipse class="k w" cx="915" cy="1681" rx="26" ry="28" transform="rotate(0 915 1681)"/>
<path class="n" transform="translate(0,896) scale(1)" d="M470 20 L580 75 M470 20 L480 260 L560 300 M180 330 L470 282 M160 358 L555 330 M725 20 L850 80 M725 20 L730 230 L760 290 M650 240 L700 232 M655 335 L770 365 M890 180 L940 230"/>
<path class="n" transform="translate(0,896) scale(1)" d="M545 660 L940 900"/>
<path class="k" transform="translate(0,896) scale(1)" d="M850 700 L900 760 M940 808 L1024 885"/>
<path class="n" transform="translate(0,896) scale(1)" d="M960 790 L1024 840 M850 740 L890 790"/>
<path class="k" style="stroke-width:2.5" transform="translate(896,896) scale(1)" d="M945.0 0.0 C944.3 26.7 942.0 133.3 940.0 200.0 C938.0 266.7 932.0 434.7 930.0 500.0 C928.0 565.3 928.3 659.3 925.0 690.0 C921.7 720.7 909.0 694.0 905.0 730.0 C901.0 766.0 896.3 929.3 895.0 960.0"/>
<path class="n" transform="translate(896,896) scale(1)" d="M915.0 0.0 C913.7 66.7 907.7 406.7 905.0 500.0 C902.3 593.3 899.0 667.3 895.0 700.0 C891.0 732.7 878.3 710.3 875.0 745.0 C871.7 779.7 870.7 931.3 870.0 960.0"/>
<path class="k" transform="translate(896,896) scale(1)" d="M700 20 L760 60 L860 92 L865 312 L805 325 L715 240"/>
<path class="n" transform="translate(896,896) scale(1)" d="M720 60 L725 230 M745 70 L760 340 M770 100 Q800 130 795 190"/>
<path class="k" transform="translate(896,896) scale(1)" d="M760 180 Q800 215 835 175 Q850 110 790 70 M805 325 L862 240"/>
<path class="k" transform="translate(896,896) scale(1)" d="M690 370 L620 500 L555 585 L660 665 Q700 680 745 722"/>
<path class="m" transform="translate(896,896) scale(1)" d="M690 370 L760 360 L860 440 L860 475 L825 480 L825 440 L790 402 L740 395 L775 455 L800 470 L800 495 L770 510 L770 545 L830 540 L860 550 L860 520"/>
<path class="k" transform="translate(896,896) scale(1)" d="M700 600 L800 560 M660 665 L700 600 M700 640 Q730 690 745 722"/>
<path class="n" transform="translate(896,896) scale(1)" d="M660 450 L740 520 L700 600 M620 520 L660 550 L660 530 L625 505 M690 370 L775 455"/>
<ellipse class="m" cx="1691" cy="1546" rx="28" ry="28" transform="rotate(0 1691 1546)"/>
<ellipse class="n" cx="1691" cy="1546" rx="15" ry="15" transform="rotate(0 1691 1546)"/>
<path class="k" transform="translate(896,896) scale(1)" d="M745 705 L875 765"/>
<path class="n" transform="translate(896,896) scale(1)" d="M830 620 L900 662 M800 690 L880 740 M740 722 L740 870"/>
<path class="k" transform="translate(896,896) scale(1)" d="M440 960 L745 870 L870 960"/>
<path class="n" transform="translate(896,896) scale(1)" d="M470 960 L740 885"/>
<path class="k" transform="translate(896,896) scale(1)" d="M40.0 810.0 C53.3 823.3 88.3 870.0 120.0 890.0 C151.7 910.0 198.3 921.7 230.0 930.0 C261.7 938.3 296.7 938.3 310.0 940.0"/>
<path class="k" transform="translate(896,896) scale(1)" d="M60.0 810.0 C75.0 816.7 120.0 846.7 150.0 850.0 C180.0 853.3 225.0 833.3 240.0 830.0"/>
<path class="k" transform="translate(896,896) scale(1)" d="M240 830 L280 822 L355 900"/>
<path class="n" transform="translate(896,896) scale(1)" d="M240 850 L300 930"/>
<ellipse class="k w" cx="1226" cy="1816" rx="27" ry="34" transform="rotate(-20 1226 1816)"/>
<ellipse class="k w" cx="911" cy="1681" rx="26" ry="28" transform="rotate(0 911 1681)"/>
<ellipse class="k w" cx="956" cy="1154" rx="26" ry="28" transform="rotate(0 956 1154)"/>
<path class="k" style="stroke-width:2.5" transform="translate(0,1664) scale(1)" d="M130 155 L85 185 Q72 200 75 230 L80 330 Q90 400 110 460 Q135 520 160 570 Q180 615 210 620 L360 545 L700 420 L1024 305"/>
<path class="n" transform="translate(0,1664) scale(1)" d="M105 230 L110 400 Q125 470 150 520 Q175 575 195 592 L215 600 L360 528 L700 403 L1024 288"/>
<path class="k" transform="translate(0,1664) scale(1)" d="M100 225 L215 280 L260 280 Q400 255 600 170 Q720 110 830 0"/>
<path class="k" transform="translate(0,1664) scale(1)" d="M145 0 L135 190"/>
<path class="n" transform="translate(0,1664) scale(1)" d="M235 0 L220 248"/>
<path class="k" transform="translate(0,1664) scale(1)" d="M260 55 L250 238 Q450 200 650 110 Q730 70 800 20"/>
<path class="n" transform="translate(0,1664) scale(1)" d="M720 0 L940 135"/>
<path class="k" style="stroke-width:2.5" transform="translate(896,1664) scale(1)" d="M0 350 L745 100 L880 205 L900 205 L900 0"/>
<path class="n" transform="translate(896,1664) scale(1)" d="M0 333 L740 86 L740 0 M860 0 Q878 40 872 200"/>
</g>
<g transform="translate(270,750) scale(0.05858)">
<path class="k w" d="M130 500 L225 335 L360 295 L440 345 L300 700 L240 660 L160 620 Z"/>
<path class="n" d="M160 510 L255 550 M280 345 L330 400 L362 300 M330 400 L260 540"/>
<ellipse class="k w" cx="425" cy="580" rx="170" ry="255" transform="rotate(30 425 580)"/>
<ellipse class="k w" cx="445" cy="570" rx="168" ry="255" transform="rotate(30 445 570)"/>
<ellipse class="k" cx="462" cy="590" rx="85" ry="135" transform="rotate(30 462 590)"/>
<path class="h" d="M395 560 L510 490"/>
<path class="h" d="M403 588 L518 518"/>
<path class="h" d="M411 616 L526 546"/>
<path class="h" d="M419 644 L534 574"/>
<path class="h" d="M427 672 L542 602"/>
<path class="h" d="M435 700 L550 630"/>
</g>
</g>

</svg>
</body></html>
